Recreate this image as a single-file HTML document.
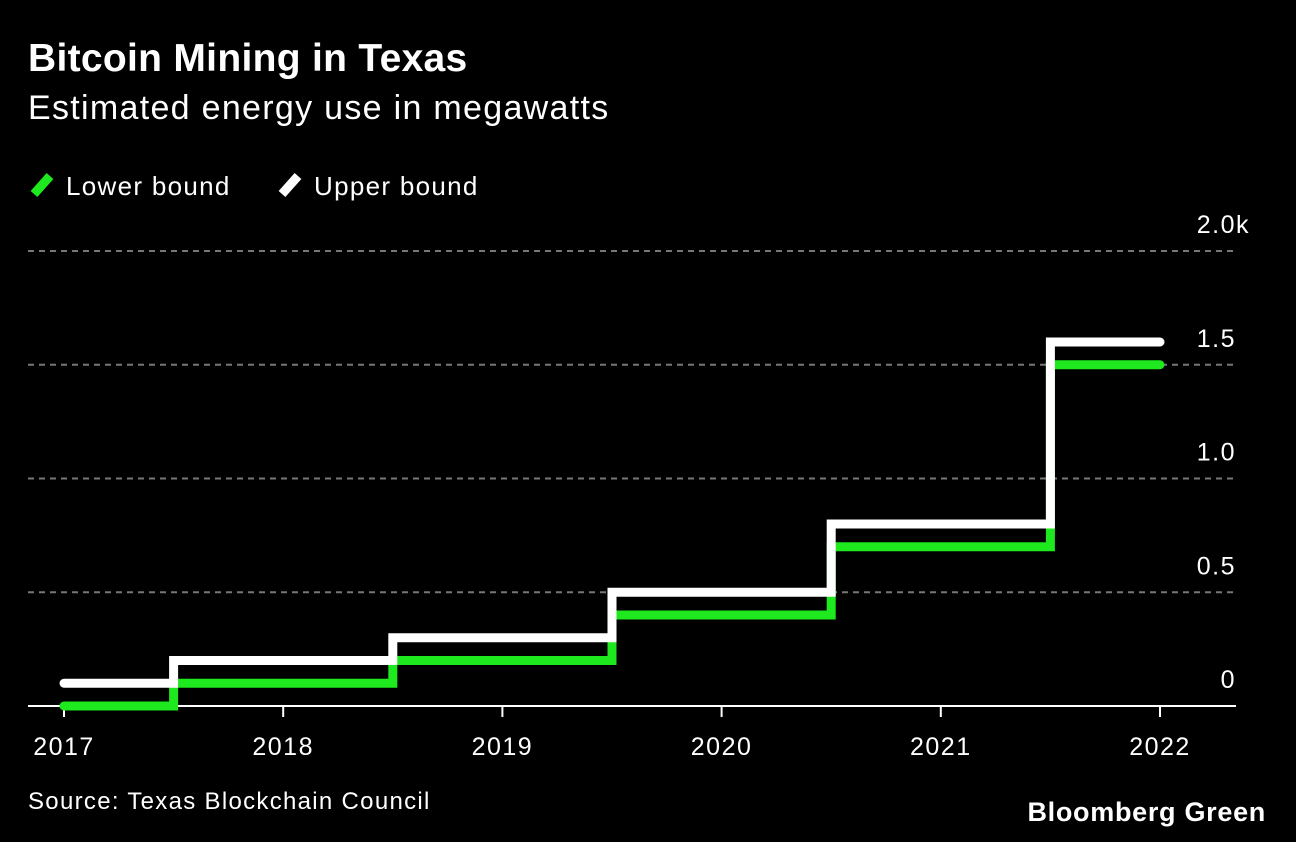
<!DOCTYPE html>
<html><head><meta charset="utf-8">
<style>
html,body{margin:0;padding:0;background:#000;}
body{width:1296px;height:842px;overflow:hidden;font-family:"Liberation Sans",Arial,sans-serif;color:#fff;position:relative;}
.t{position:absolute;white-space:nowrap;}
</style></head><body>
<div class="t" style="left:28px;top:37px;font-size:39px;font-weight:bold;letter-spacing:0.3px;">Bitcoin Mining in Texas</div>
<div class="t" style="left:28px;top:89px;font-size:34px;letter-spacing:1.3px;">Estimated energy use in megawatts</div>
<div class="t" style="left:28px;top:170px;font-size:26px;letter-spacing:1.3px;"><svg width="30" height="30" style="vertical-align:-5px;margin-right:8px"><line x1="6" y1="24" x2="22" y2="6" stroke="#1ee81e" stroke-width="9" stroke-linecap="butt"/></svg>Lower bound</div>
<div class="t" style="left:276px;top:170px;font-size:26px;letter-spacing:1.3px;"><svg width="30" height="30" style="vertical-align:-5px;margin-right:8px"><line x1="6" y1="24" x2="22" y2="6" stroke="#fff" stroke-width="9" stroke-linecap="butt"/></svg>Upper bound</div>
<svg id="chart" width="1296" height="842" style="position:absolute;left:0;top:0"></svg>
<div class="t" style="left:28px;top:788px;font-size:24px;letter-spacing:1.3px;">Source: Texas Blockchain Council</div>
<div class="t" style="right:30px;top:797px;font-size:27px;font-weight:bold;letter-spacing:0.7px;">Bloomberg Green</div>
<script>
const years=[2017,2018,2019,2020,2021,2022];
const lowerValues=[0,100,200,400,700,1500];
const upperValues=[100,200,300,500,800,1600];
const yTicks=[0,500,1000,1500,2000];
const yTickLabels=["0","0.5","1.0","1.5","2.0k"];
const NS="http://www.w3.org/2000/svg";
const svg=document.getElementById('chart');
function xS(y){return 64+(y-2017)*219.2;}
function yS(v){return 706-v*0.2275;}
function mk(tag,attrs){const e=document.createElementNS(NS,tag);for(const k in attrs)e.setAttribute(k,attrs[k]);svg.appendChild(e);return e;}
yTicks.forEach((t,i)=>{
  if(t>0){const g=mk('line',{x1:28,x2:1236,y1:yS(t),y2:yS(t),stroke:'#777','stroke-width':2,'stroke-dasharray':'6,5'});
  
  }
  const lbl=yTickLabels[i];
  const hasK=lbl.endsWith('k');
  const tx=mk('text',{x:1236,y:yS(t)-18,'text-anchor':'end','font-size':25,'letter-spacing':1.5,fill:'#fff'});
  tx.textContent=hasK?lbl.slice(0,-1):lbl;
  
  
  if(hasK){
    const k=mk('text',{x:1236,y:yS(t)-18,'font-size':25,fill:'#fff'});
    k.textContent='k';
    
    
  }
});
const ax=mk('line',{x1:28,x2:1236,y1:706,y2:706,stroke:'#fff','stroke-width':2});


years.forEach(y=>{
  const tk=mk('line',{x1:xS(y),x2:xS(y),y1:706,y2:717,stroke:'#fff','stroke-width':2});
  
  
  const tx=mk('text',{x:xS(y),y:755,'text-anchor':'middle','font-size':25,'letter-spacing':1.5,fill:'#fff'});
  tx.textContent=y;
  
  
});
function stepPath(vals){
  let d='';
  vals.forEach((v,i)=>{
    const x0=xS(Math.max(2017,years[i]-0.5)),x1=xS(Math.min(2022,years[i]+0.5));
    d+=(i===0?'M':'L')+x0+','+yS(v)+'L'+x1+','+yS(v);
  });
  return d;
}
const lp=mk('path',{d:stepPath(lowerValues),fill:'none',stroke:'#1ee81e','stroke-width':9,'stroke-linecap':'round','stroke-linejoin':'miter'});


const up=mk('path',{d:stepPath(upperValues),fill:'none',stroke:'#fff','stroke-width':9,'stroke-linecap':'round','stroke-linejoin':'miter'});


</script>
</body></html>
